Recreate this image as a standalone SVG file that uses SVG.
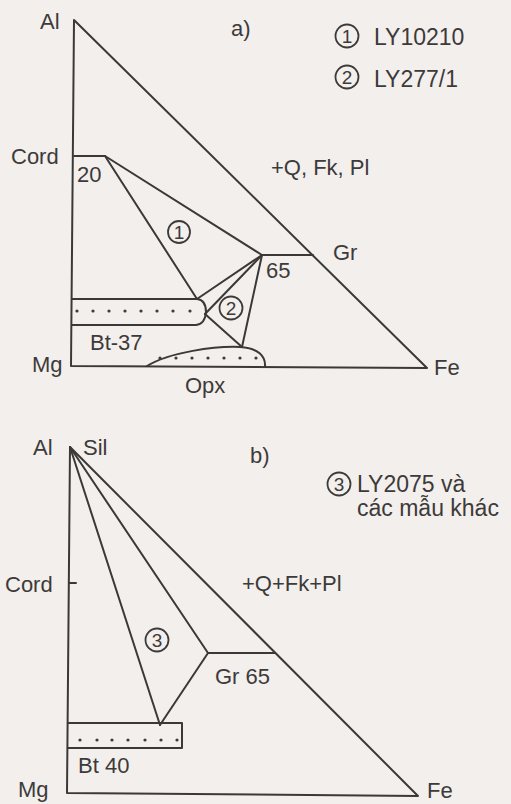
<svg xmlns="http://www.w3.org/2000/svg" width="511" height="804" viewBox="0 0 511 804">
<style>
.ln{fill:none;stroke:#3b3838;stroke-width:2;stroke-linejoin:round;stroke-linecap:round}
.tx{font-family:"Liberation Sans",Arial,sans-serif;font-size:22px;fill:#3d3a3a}
.lg{font-family:"Liberation Sans",Arial,sans-serif;font-size:23px;fill:#3d3a3a}
.cn{font-family:"Liberation Sans",Arial,sans-serif;font-size:19px;fill:#3d3a3a;text-anchor:middle}
.cc{fill:none;stroke:#3d3a3a;stroke-width:1.8}
.dt{fill:#3d3a3a}
</style>
<defs>
<circle id="d" r="1.6" class="dt"/>
</defs>
<rect width="511" height="804" fill="#f3efec"/>

<!-- ===== Diagram a) ===== -->
<g id="frame-a">
<path class="ln" d="M74,20 L71,366 L427,368 Z"/>
</g>
<g id="bt37-a">
<path class="ln" d="M72,299 L197,299 Q206,300 206,312 Q205,324 196,325 L72,325"/>
<use href="#d" x="77" y="311"/><use href="#d" x="93" y="311"/><use href="#d" x="109" y="311"/><use href="#d" x="125" y="311"/><use href="#d" x="141" y="311"/><use href="#d" x="157" y="311"/><use href="#d" x="173" y="311"/><use href="#d" x="190" y="311"/>
</g>
<g id="opx-a">
<path class="ln" d="M147,366 C170,352 215,346 240,347 C258,348 266,356 265,367"/>
<use href="#d" x="160" y="358"/><use href="#d" x="176" y="358"/><use href="#d" x="192" y="358"/><use href="#d" x="208" y="358"/><use href="#d" x="224" y="358"/><use href="#d" x="240" y="358"/><use href="#d" x="256" y="358"/>
</g>
<g id="cord-a">
<path class="ln" d="M74,156 L105,156"/>
</g>
<g id="gr-a">
<path class="ln" d="M262,255 L313,255"/>
</g>
<g id="tielines-a">
<path class="ln" d="M105,156 L262,255"/>
<path class="ln" d="M105,156 L197,299"/>
<path class="ln" d="M262,255 L197,299"/>
<path class="ln" d="M262,255 L205,314"/>
<path class="ln" d="M205,314 L242,347"/>
<path class="ln" d="M262,255 L242,347"/>
</g>
<g id="labels-a">
<text class="tx" x="40" y="29">Al</text>
<text class="tx" x="231" y="36">a)</text>
<text class="tx" x="11" y="164">Cord</text>
<text class="tx" x="77" y="182">20</text>
<text class="tx" x="271" y="175">+Q, Fk, Pl</text>
<text class="tx" x="333" y="260">Gr</text>
<text class="tx" x="266" y="278">65</text>
<text class="tx" x="90" y="350">Bt-37</text>
<text class="tx" x="32" y="372">Mg</text>
<text class="tx" x="185" y="393">Opx</text>
<text class="tx" x="434" y="375">Fe</text>
</g>
<g id="field-1">
<circle class="cc" cx="179" cy="232" r="11"/>
<text class="cn" x="179" y="239">1</text>
</g>
<g id="field-2">
<circle class="cc" cx="231" cy="308" r="11.5"/>
<text class="cn" x="231" y="315">2</text>
</g>
<g id="legend-a">
<circle class="cc" cx="347" cy="36" r="11.5"/>
<text class="cn" x="347" y="43">1</text>
<text class="lg" x="374" y="45">LY10210</text>
<circle class="cc" cx="347" cy="77" r="11.5"/>
<text class="cn" x="347" y="84">2</text>
<text class="lg" x="374" y="87">LY277/1</text>
</g>

<!-- ===== Diagram b) ===== -->
<g id="frame-b">
<path class="ln" d="M70,447 L67,793 L418,796 Z"/>
</g>
<g id="bt40-b">
<path class="ln" d="M68,723 L182,723 L182,748 L68,748"/>
<use href="#d" x="80" y="740"/><use href="#d" x="97" y="740"/><use href="#d" x="112" y="740"/><use href="#d" x="128" y="740"/><use href="#d" x="145" y="740"/><use href="#d" x="161" y="740"/><use href="#d" x="177" y="740"/>
</g>
<g id="cord-b">
<path class="ln" d="M69,583 L76,583"/>
</g>
<g id="gr-b">
<path class="ln" d="M208,653 L275,653"/>
</g>
<g id="tielines-b">
<path class="ln" d="M70,447 L160,725"/>
<path class="ln" d="M70,447 L208,653"/>
<path class="ln" d="M208,653 L160,725"/>
</g>
<g id="labels-b">
<text class="tx" x="33" y="455">Al</text>
<text class="tx" x="83" y="455">Sil</text>
<text class="tx" x="250" y="463">b)</text>
<text class="tx" x="5" y="592">Cord</text>
<text class="tx" x="242" y="591">+Q+Fk+Pl</text>
<text class="tx" x="215" y="684">Gr 65</text>
<text class="tx" x="78" y="773">Bt 40</text>
<text class="tx" x="18" y="797">Mg</text>
<text class="tx" x="427" y="798">Fe</text>
</g>
<g id="field-3">
<circle class="cc" cx="157" cy="640" r="11.5"/>
<text class="cn" x="157" y="647">3</text>
</g>
<g id="legend-b">
<circle class="cc" cx="339" cy="484" r="11.5"/>
<text class="cn" x="339" y="491">3</text>
<text class="lg" x="357" y="492">LY2075 và</text>
<text class="lg" x="357" y="516">các mẫu khác</text>
</g>
</svg>
